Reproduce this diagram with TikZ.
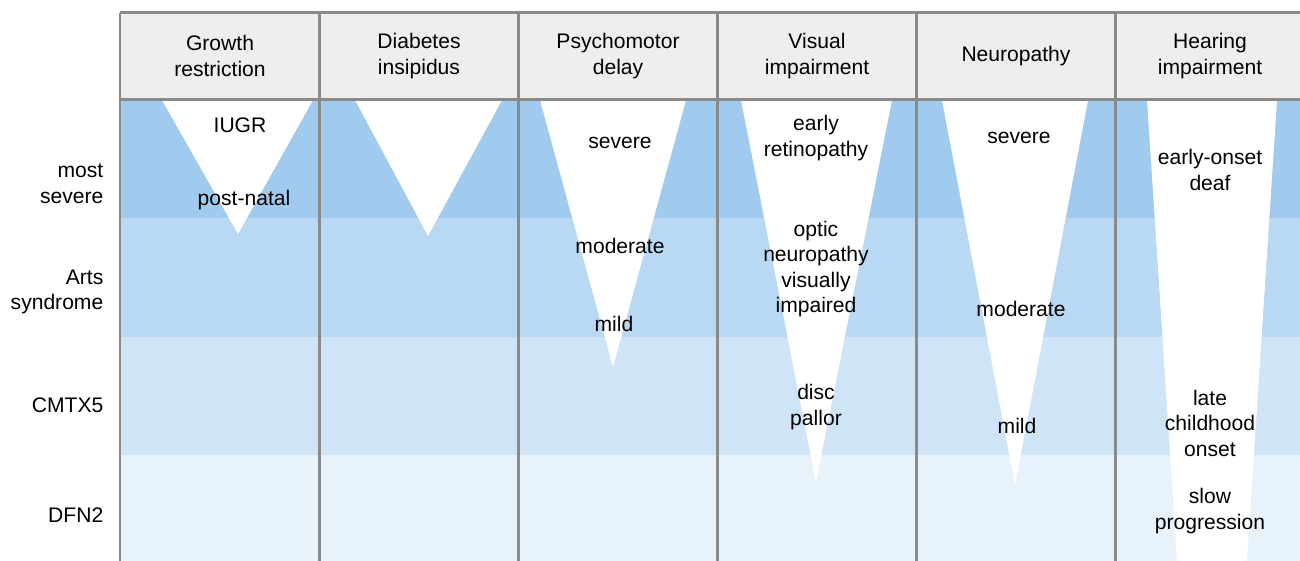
\documentclass[tikz,border=0pt]{standalone}
\usepackage{fontspec}
\setmainfont{Liberation Sans}
\definecolor{gridgray}{HTML}{8A8A8A}
\definecolor{headfill}{HTML}{EEEEEE}
\definecolor{bandA}{HTML}{A0CAEE}
\definecolor{bandB}{HTML}{B8D8F3}
\definecolor{bandC}{HTML}{D0E4F7}
\definecolor{bandD}{HTML}{E8F2FB}
\tikzset{
  cell/.style={font=\fontsize{6}{7.25}\selectfont, align=center, inner sep=0pt, yshift=-0.2mm},
  rowlabel/.style={cell, align=right, anchor=east},
  gridline/.style={draw=gridgray, line width=0.85pt}
}
\begin{document}
\begin{tikzpicture}
\useasboundingbox (0,0) rectangle (13,5.61);
% severity bands
\fill[bandA] (1.20,3.43) rectangle (13,4.61);
\fill[bandB] (1.20,2.24) rectangle (13,3.43);
\fill[bandC] (1.20,1.06) rectangle (13,2.24);
\fill[bandD] (1.20,0) rectangle (13,1.06);
\fill[headfill] (1.20,4.61) rectangle (13,5.48);
% wedges
\fill[white] (1.62,4.61)--(3.13,4.61)--(2.38,3.27)--cycle;
\fill[white] (3.55,4.61)--(5.02,4.61)--(4.28,3.25)--cycle;
\fill[white] (5.40,4.61)--(6.86,4.61)--(6.13,1.94)--cycle;
\fill[white] (7.41,4.61)--(8.92,4.61)--(8.16,0.79)--cycle;
\fill[white] (9.42,4.61)--(10.88,4.61)--(10.15,0.76)--cycle;
\fill[white] (11.47,4.61)--(12.77,4.61)--(12.47,0)--(11.77,0)--cycle;
% grid
\draw[gridline] (1.20,5.48)--(13,5.48);
\draw[gridline] (1.20,4.61)--(13,4.61);
\draw[gridline] (1.20,0)--(1.20,5.48);
\draw[gridline] (3.19,0)--(3.19,5.48);
\draw[gridline] (5.18,0)--(5.18,5.48);
\draw[gridline] (7.17,0)--(7.17,5.48);
\draw[gridline] (9.16,0)--(9.16,5.48);
\draw[gridline] (11.15,0)--(11.15,5.48);
% headers
\node[cell] (hgrowth) at (2.20,5.07) {Growth\\restriction};
\node[cell] (hdiab) at (4.19,5.07) {Diabetes\\insipidus};
\node[cell] (hpsych) at (6.18,5.07) {Psychomotor\\delay};
\node[cell] (hvis) at (8.17,5.07) {Visual\\impairment};
\node[cell] (hneuro) at (10.16,5.07) {Neuropathy};
\node[cell] (hhear) at (12.10,5.07) {Hearing\\impairment};
% row labels
\node[rowlabel] (rsevere) at (1.04,3.79) {most\\severe};
\node[rowlabel] (rarts) at (1.04,2.71) {Arts\\syndrome};
\node[rowlabel] (rcmtx) at (1.04,1.58) {CMTX5};
\node[rowlabel] (rdfn) at (1.04,0.48) {DFN2};
% wedge texts
\node[cell] (iugr) at (2.40,4.38) {IUGR};
\node[cell] (postnatal) at (2.44,3.63) {post-natal};
\node[cell] (psevere) at (6.20,4.20) {severe};
\node[cell] (pmoderate) at (6.20,3.17) {moderate};
\node[cell] (pmild) at (6.14,2.39) {mild};
\node[cell] (vearly) at (8.16,4.25) {early\\retinopathy};
\node[cell] (voptic) at (8.16,2.94) {optic\\neuropathy\\visually\\impaired};
\node[cell] (vdisc) at (8.16,1.56) {disc\\pallor};
\node[cell] (nsevere) at (10.19,4.25) {severe};
\node[cell] (nmoderate) at (10.21,2.54) {moderate};
\node[cell] (nmild) at (10.17,1.37) {mild};
\node[cell] (hearly) at (12.10,3.93) {early-onset\\deaf};
\node[cell] (hlate) at (12.10,1.40) {late\\childhood\\onset};
\node[cell] (hslow) at (12.10,0.52) {slow\\progression};
\end{tikzpicture}
\end{document}
